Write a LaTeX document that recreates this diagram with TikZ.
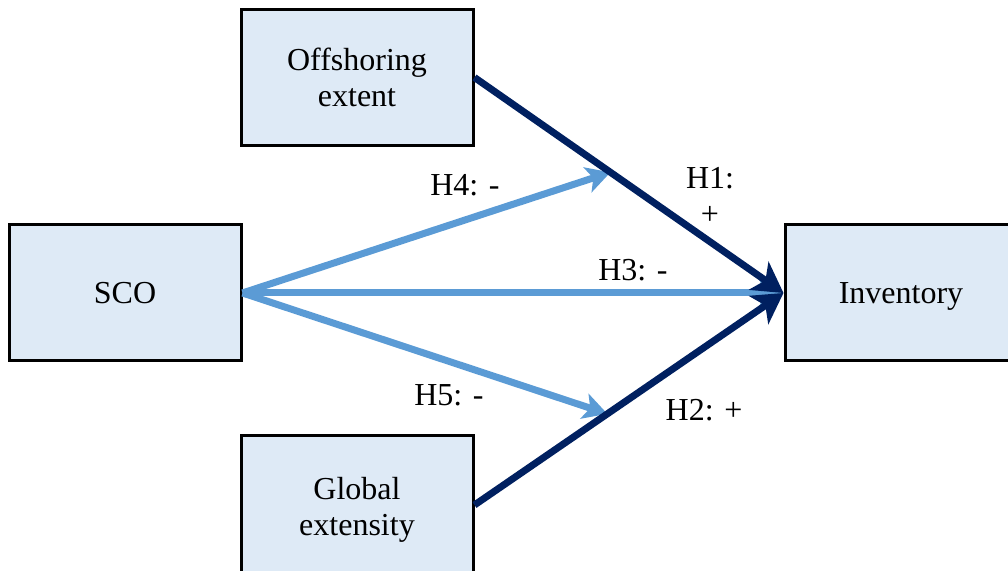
\documentclass[tikz,border=0pt]{standalone}
\usepackage{fontspec}
\setmainfont{Liberation Serif}
\usepackage{xcolor}
\usetikzlibrary{arrows.meta, calc}

\definecolor{boxfill}{HTML}{DEEAF6}
\definecolor{navy}{HTML}{002060}
\definecolor{lightarr}{HTML}{5B9BD5}

\begin{document}
\begin{tikzpicture}[x=0.5pt, y=0.5pt,
  block/.style={rectangle, draw=black, line width=1.5pt, fill=boxfill,
    minimum width=116pt, minimum height=68pt, align=center,
    font=\fontsize{16}{18}\selectfont},
  darkarrow/.style={-{Stealth[length=15pt, width=17pt, inset=4pt]}, line width=3.5pt, draw=navy},
  lightarrow/.style={-{Stealth[length=12pt, width=13pt, inset=3pt]}, line width=3.5pt, draw=lightarr},
  lbl/.style={font=\fontsize{16}{18}\selectfont, align=center},
]
\useasboundingbox (0,0) rectangle (1008,571);

\node[block] (off) at (357,493.5) {Offshoring\\extent};
\node[block] (sco) at (125,278) {SCO};
\node[block, minimum height=74pt] (glo) at (357,61) {Global\\extensity};
\node[block, text depth=0pt] (inv) at (901,278) {Inventory};

% exit point of the lower dark line
\coordinate (gloout) at ([yshift=2.5pt]glo.east);

\coordinate (m1) at ($(off.east)!0.44!(inv.west)$);
\coordinate (m2) at ($(gloout)!0.43!(inv.west)$);

\draw[lightarrow] (sco.east) -- (m1);
\draw[lightarrow] (sco.east) -- (inv.west);
\draw[lightarrow] (sco.east) -- (m2);

\draw[darkarrow] (off.east) -- (inv.west);
\draw[darkarrow] (gloout) -- (inv.west);

\node[lbl] (h4) at (465,386) {H4: -};
\node[lbl] (h1) at (710,375) {H1:\\+};
\node[lbl] (h3) at (633,301) {H3: -};
\node[lbl] (h5) at (449,176) {H5: -};
\node[lbl] (h2) at (704,161) {H2: +};

\end{tikzpicture}
\end{document}
